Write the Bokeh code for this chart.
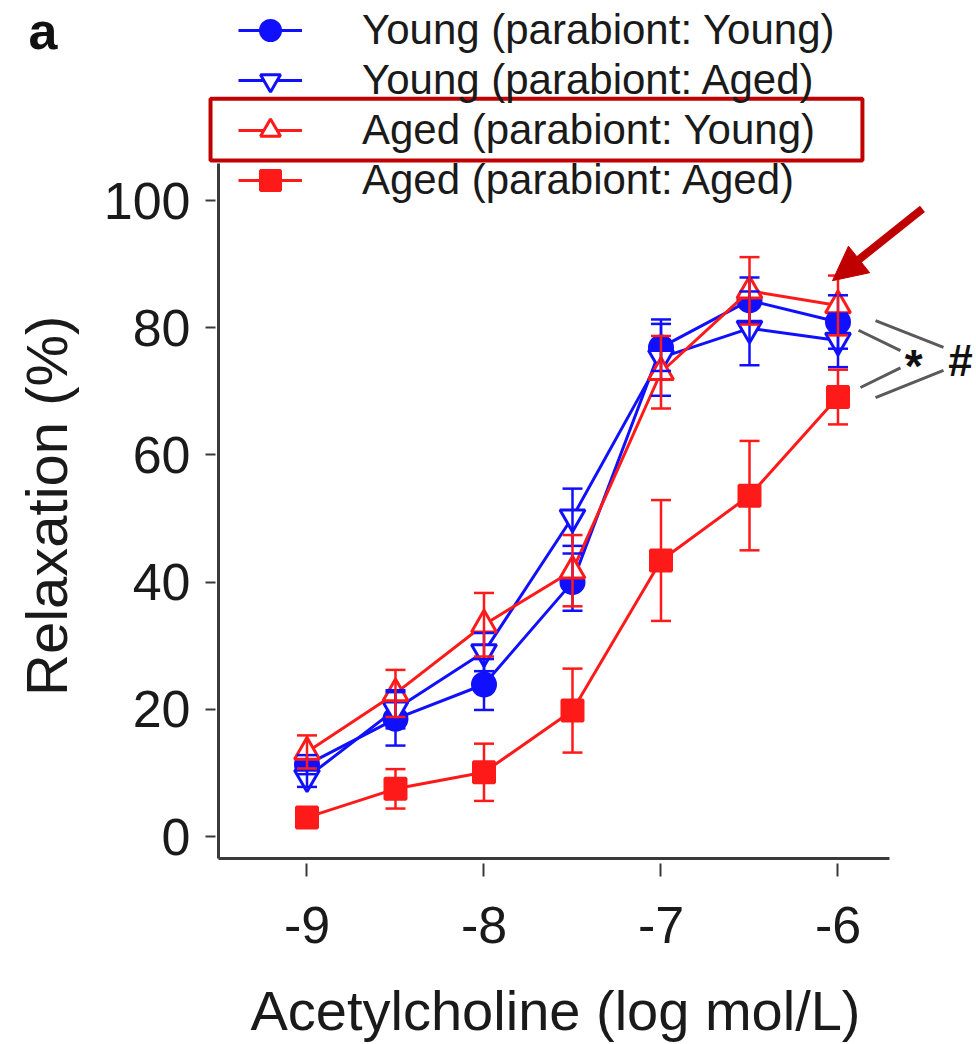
import math
from bokeh.plotting import figure
from bokeh.models import (ColumnDataSource, Whisker, TeeHead, Legend, LegendItem,
                          FixedTicker, Label, BoxAnnotation, Arrow, NormalHead, Range1d)
from bokeh.embed import file_html
from bokeh.resources import INLINE

# ---------------- data ----------------
dose = [-9, -8.5, -8, -7.5, -7, -6.5, -6]

young_young = [11.3, 18.5, 23.9, 40.0, 76.9, 84.3, 80.9]
young_young_err = [1.5, 4.2, 4.0, 4.5, 3.7, 3.6, 4.2]

young_aged = [9.3, 20.0, 29.0, 50.2, 75.3, 79.9, 78.0]
young_aged_err = [1.5, 3.0, 3.0, 4.5, 6.0, 5.8, 4.2]

aged_young = [13.3, 22.5, 33.3, 41.8, 73.0, 85.8, 83.5]
aged_young_err = [2.6, 3.7, 5.0, 5.6, 5.7, 5.3, 4.7]

aged_aged = [3.0, 7.5, 10.1, 19.8, 43.4, 53.6, 69.1]
aged_aged_err = [1.5, 3.1, 4.5, 6.6, 9.5, 8.6, 4.3]

series_labels = ["Young (parabiont: Young)", "Young (parabiont: Aged)",
                 "Aged (parabiont: Young)", "Aged (parabiont: Aged)"]

x_ticks = [-9, -8, -7, -6]
x_tick_labels = ["-9", "-8", "-7", "-6"]
y_ticks = [0, 20, 40, 60, 80, 100]
y_tick_labels = ["0", "20", "40", "60", "80", "100"]

x_title = "Acetylcholine (log mol/L)"
y_title = "Relaxation (%)"
panel_letter = "a"

# ---------------- layout (axes drawn at fixed data locations) ----------------
X_AXIS_AT = -3.46          # y value where the x axis sits
Y_AXIS_AT = -9.5           # x value where the y axis sits
X_AXIS_BOUNDS = (-9.5, -5.71)
Y_AXIS_BOUNDS = (-3.46, 105.8)

# annotation layout (significance brackets: x0, y0, x1, y1)
star_lines = [(-5.884, 79.6, -5.647, 76.4), (-5.873, 70.6, -5.647, 73.7)]
hash_lines = [(-5.788, 81.1, -5.404, 76.9), (-5.788, 69.0, -5.404, 73.3)]

BLUE = "#1010FF"
RED = "#FF1A1A"
DARKRED = "#C00000"
FONT = "Liberation Sans"
TXT = "#1a1a1a"

p = figure(width=976, height=1044, output_backend="svg", toolbar_location=None,
           x_range=Range1d(-10.7316, -5.2175), y_range=Range1d(-32.70, 131.45),
           min_border_left=0, min_border_right=0, min_border_top=0,
           min_border_bottom=0)
p.outline_line_color = None
p.xgrid.grid_line_color = None
p.ygrid.grid_line_color = None
p.background_fill_color = "white"
p.border_fill_color = "white"

for ax in (p.xaxis[0], p.yaxis[0]):
    ax.axis_line_color = "#3a3a3a"
    ax.axis_line_width = 3
    ax.major_tick_line_color = "#3a3a3a"
    ax.major_tick_line_width = 2
    ax.minor_tick_line_color = None
    ax.major_label_text_font = FONT
    ax.major_label_text_font_size = "52px"
    ax.major_label_text_color = TXT

xa = p.xaxis[0]
xa.fixed_location = X_AXIS_AT
xa.ticker = FixedTicker(ticks=x_ticks)
xa.major_label_overrides = dict(zip(x_ticks, x_tick_labels))
xa.bounds = X_AXIS_BOUNDS
xa.major_tick_in = -5
xa.major_tick_out = 18
xa.major_label_standoff = 30

ya = p.yaxis[0]
ya.fixed_location = Y_AXIS_AT
ya.ticker = FixedTicker(ticks=y_ticks)
ya.major_label_overrides = dict(zip(y_ticks, y_tick_labels))
ya.bounds = Y_AXIS_BOUNDS
ya.major_tick_in = -3
ya.major_tick_out = 13
ya.major_label_standoff = 15

# axis titles
p.add_layout(Label(x=-7.596, y=-27.4, text=x_title, text_font=FONT,
                   text_font_size="56px", text_align="center",
                   text_baseline="middle", text_color=TXT))
p.add_layout(Label(x=-10.472, y=52.0, text=y_title, text_font=FONT,
                   text_font_size="58px", text_align="center",
                   text_baseline="middle", text_color=TXT, angle=math.pi / 2))

specs = [
    (young_young, young_young_err, BLUE, "circle", BLUE, 23),
    (young_aged, young_aged_err, BLUE, "inverted_triangle", "white", 25),
    (aged_young, aged_young_err, RED, "triangle", "white", 25),
    (aged_aged, aged_aged_err, RED, "square", RED, 21),
]

items = []
for (vals, errs, col, marker, fill, size), lab in zip(specs, series_labels):
    src = ColumnDataSource(dict(x=dose, y=vals,
                                upper=[v + e for v, e in zip(vals, errs)],
                                lower=[v - e for v, e in zip(vals, errs)]))
    lr = p.line("x", "y", source=src, line_color=col, line_width=3)
    sr = p.scatter("x", "y", source=src, marker=marker, size=size,
                   fill_color=fill, line_color=col, line_width=3)
    w = Whisker(base="x", upper="upper", lower="lower", source=src,
                line_color=col, line_width=2.5, level="annotation",
                upper_head=TeeHead(size=20, line_color=col, line_width=2.5),
                lower_head=TeeHead(size=20, line_color=col, line_width=2.5))
    p.add_layout(w)
    items.append(LegendItem(label=lab, renderers=[lr, sr]))

legend = Legend(items=items, location=(238, 839), padding=0, margin=0, spacing=0,
                label_height=50, glyph_height=50, glyph_width=64,
                label_standoff=60, label_text_font=FONT,
                label_text_font_size="42px", label_text_color=TXT,
                background_fill_alpha=0, border_line_alpha=0)
p.add_layout(legend)

# red highlight box round the third legend entry
p.add_layout(BoxAnnotation(left=-9.545, right=-5.862, bottom=106.3, top=116.0,
                           fill_alpha=0, line_color=DARKRED, line_alpha=1.0,
                           line_width=4, level="overlay"))

# arrow
p.add_layout(Arrow(x_start=-5.523, y_start=98.7, x_end=-6.031, y_end=87.4,
                   line_color=DARKRED, line_width=8,
                   end=NormalHead(size=34, fill_color=DARKRED, line_color=DARKRED)))

# significance brackets
for (x0, y0, x1, y1) in star_lines + hash_lines:
    p.segment(x0=[x0], y0=[y0], x1=[x1], y1=[y1], line_color="#5a5a5a", line_width=3)
p.add_layout(Label(x=-5.573, y=74.0, text="*", text_font=FONT, text_font_size="46px",
                   text_align="center", text_baseline="middle", text_color="#111111",
                   text_font_style="bold"))
p.add_layout(Label(x=-5.308, y=74.8, text="#", text_font=FONT, text_font_size="44px",
                   text_align="center", text_baseline="middle", text_color="#111111",
                   text_font_style="bold"))

# panel letter
p.add_layout(Label(x=-10.573, y=126.7, text=panel_letter, text_font=FONT,
                   text_font_size="52px", text_font_style="bold", text_align="left",
                   text_baseline="middle", text_color="#111111"))

open("out.html", "w").write(file_html(p, INLINE))
